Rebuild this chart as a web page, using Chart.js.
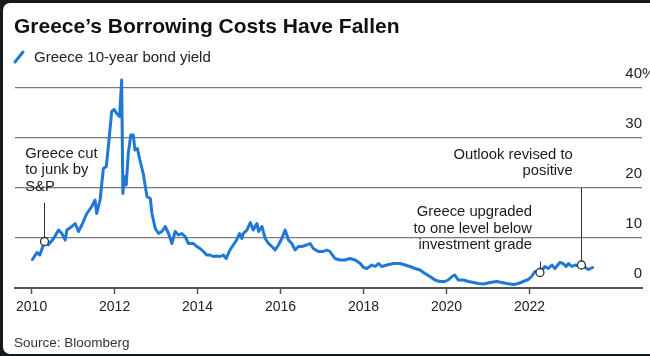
<!DOCTYPE html>
<html>
<head>
<meta charset="utf-8">
<script src="https://cdn.jsdelivr.net/npm/chart.js@4.4.0/dist/chart.umd.min.js"></script>
<style>
  html, body { margin:0; padding:0; width:650px; height:356px; overflow:hidden; background:#15191d; }
  #card { position:absolute; left:3px; top:3px; width:660px; height:351px; background:#fff; border-radius:7px 0 0 7px; }
  #chart { position:absolute; left:0; top:0; }
  .txt { position:absolute; white-space:nowrap; font-family:"Liberation Sans", Arial, Helvetica, sans-serif; }
  #title { left:14px; top:15px; font-size:21px; line-height:21px; font-weight:bold; color:#111; }
  #legend { left:34px; top:49px; font-size:15px; line-height:15px; color:#222; }
  #source { left:14px; top:336px; font-size:13.5px; line-height:13.5px; color:#333; }
  #legicon { position:absolute; left:0; top:0; }
</style>
</head>
<body>
<div id="card"></div>
<canvas id="chart" width="650" height="356"></canvas>
<div id="title" class="txt">Greece’s Borrowing Costs Have Fallen</div>
<svg id="legicon" width="40" height="70"><line x1="15" y1="62" x2="23" y2="52" stroke="#1f77d6" stroke-width="3" stroke-linecap="round"/></svg>
<div id="legend" class="txt">Greece 10-year bond yield</div>
<div id="source" class="txt">Source: Bloomberg</div>
<script>
// ---- data ----
const seriesName = 'Greece 10-year bond yield';
const yieldYears = [
  2010.02, 2010.13, 2010.20, 2010.31, 2010.40, 2010.53, 2010.65, 2010.73, 2010.81, 2010.85,
  2010.97, 2011.05, 2011.13, 2011.21, 2011.33, 2011.45, 2011.53, 2011.57, 2011.65, 2011.73,
  2011.80, 2011.85, 2011.93, 2011.99, 2012.05, 2012.12, 2012.17, 2012.20, 2012.23, 2012.28,
  2012.33, 2012.39, 2012.45, 2012.49, 2012.55, 2012.61, 2012.69, 2012.78, 2012.86, 2012.90,
  2012.98, 2013.06, 2013.14, 2013.22, 2013.30, 2013.38, 2013.46, 2013.54, 2013.62, 2013.70,
  2013.78, 2013.90, 2013.98, 2014.06, 2014.14, 2014.22, 2014.30, 2014.38, 2014.46, 2014.54,
  2014.62, 2014.69, 2014.78, 2014.86, 2014.94, 2015.01, 2015.07, 2015.10, 2015.19, 2015.27,
  2015.34, 2015.43, 2015.47, 2015.55, 2015.63, 2015.71, 2015.79, 2015.87, 2015.95, 2016.03,
  2016.11, 2016.19, 2016.27, 2016.35, 2016.43, 2016.51, 2016.63, 2016.71, 2016.79, 2016.91,
  2017.03, 2017.11, 2017.19, 2017.31, 2017.43, 2017.55, 2017.67, 2017.80, 2017.92, 2018.00,
  2018.08, 2018.20, 2018.28, 2018.36, 2018.44, 2018.56, 2018.72, 2018.88, 2019.00, 2019.12,
  2019.24, 2019.36, 2019.48, 2019.60, 2019.72, 2019.84, 2019.96, 2020.04, 2020.13, 2020.20,
  2020.28, 2020.40, 2020.53, 2020.65, 2020.77, 2020.89, 2021.05, 2021.21, 2021.33, 2021.45,
  2021.61, 2021.73, 2021.85, 2021.97, 2022.05, 2022.13, 2022.25, 2022.37, 2022.45, 2022.54,
  2022.61, 2022.73, 2022.81, 2022.88, 2022.94, 2023.02, 2023.10, 2023.18, 2023.25, 2023.34,
  2023.42, 2023.52
];
const yieldValues = [
  5.7, 7.1, 6.6, 9.3, 8.6, 9.9, 11.6, 10.9, 9.6, 11.6,
  12.3, 12.9, 11.3, 12.6, 14.9, 16.3, 17.6, 14.9, 17.6, 23.9,
  24.3, 28.3, 35.3, 35.7, 34.9, 34.3, 41.6, 18.9, 22.3, 20.6,
  26.9, 30.6, 30.6, 27.6, 27.9, 25.6, 22.9, 18.3, 17.9, 14.9,
  11.9, 10.9, 11.3, 12.3, 10.9, 8.9, 11.3, 10.6, 10.9, 10.3,
  8.9, 8.9, 8.3, 7.9, 7.3, 6.6, 6.6, 6.3, 6.4, 6.3,
  6.6, 5.9, 7.6, 8.6, 9.6, 10.9, 9.9, 10.9, 11.6, 13.1,
  11.6, 12.9, 11.3, 12.3, 9.9, 8.9, 8.3, 7.6, 8.6, 9.9,
  11.6, 9.6, 8.9, 7.6, 8.3, 8.3, 8.6, 8.9, 7.9, 7.3,
  7.3, 7.6, 7.3, 5.9, 5.6, 5.6, 5.9, 5.6, 4.9, 4.1,
  3.9, 4.6, 4.3, 4.9, 4.3, 4.6, 4.9, 4.9, 4.6, 4.3,
  3.9, 3.6, 2.9, 2.3, 1.6, 1.3, 1.3, 1.6, 2.3, 2.6,
  1.6, 1.6, 1.3, 1.1, 0.9, 0.8, 1.1, 1.3, 1.1, 0.9,
  0.7, 0.9, 1.3, 1.7, 2.3, 3.3, 3.1, 4.3, 3.9, 4.6,
  3.9, 5.1, 4.9, 4.3, 4.9, 4.3, 4.6, 4.4, 4.6, 4.1,
  3.7, 4.1
];
const xTickYears = [2010, 2012, 2014, 2016, 2018, 2020, 2022];
const yTickValues = [0, 10, 20, 30, 40];
const yTickLabels = ['0', '10', '20', '30', '40%'];
const eventYears = [2010.31, 2022.25, 2023.25];
const eventValues = [9.3, 3.1, 4.6];
const eventTexts = [
  ['Greece cut', 'to junk by', 'S&P'],
  ['Greece upgraded', 'to one level below', 'investment grade'],
  ['Outlook revised to', 'positive']
];

// ---- styles / layout (not data) ----
const FONT = '"Liberation Sans", Arial, Helvetica, sans-serif';
const LINE_BLUE = '#1f77d6';
const annoLayout = [
  { dx: -19.3, dy: -87.7, align: 'left',  lineTop: -38.7 },
  { dx: -8,    dy: -60.2, align: 'right', lineTop: -11 },
  { dx: -8.7,  dy: -110.3, align: 'right', lineTop: -77 }
];

const yieldPoints = yieldYears.map((x, i) => ({ x: x, y: yieldValues[i] }));
const eventPoints = eventYears.map((x, i) => ({ x: x, y: eventValues[i] }));

const annotationPlugin = {
  id: 'annotations',
  beforeDatasetsDraw(chart) {
    const ctx = chart.ctx, xs = chart.scales.x, ys = chart.scales.y;
    ctx.save();
    ctx.strokeStyle = '#333';
    ctx.lineWidth = 1;
    eventYears.forEach((yr, i) => {
      const px = Math.round(xs.getPixelForValue(yr)) + 0.5;
      const py = ys.getPixelForValue(eventValues[i]);
      ctx.beginPath();
      ctx.moveTo(px, py + annoLayout[i].lineTop);
      ctx.lineTo(px, py);
      ctx.stroke();
    });
    ctx.restore();
  },
  afterDraw(chart) {
    const ctx = chart.ctx, xs = chart.scales.x, ys = chart.scales.y, area = chart.chartArea;
    ctx.save();
    ctx.fillStyle = '#1a1a1a';
    ctx.font = '14.8px ' + FONT;
    ctx.textBaseline = 'middle';
    eventYears.forEach((yr, i) => {
      const px = xs.getPixelForValue(yr);
      const py = ys.getPixelForValue(eventValues[i]);
      const L = annoLayout[i];
      ctx.textAlign = L.align;
      eventTexts[i].forEach((t, j) => {
        ctx.fillText(t, px + L.dx, py + L.dy + j * 16.5);
      });
    });
    // y tick labels, sitting above each gridline, right aligned with a hanging %
    ctx.font = '15px ' + FONT;
    ctx.fillStyle = '#222';
    ys.ticks.forEach((tk) => {
      const y = ys.getPixelForValue(tk.value) - 14.5;
      const label = yTickLabels[yTickValues.indexOf(tk.value)];
      const hasPct = label.endsWith('%');
      const num = hasPct ? label.slice(0, -1) : label;
      ctx.textAlign = 'right';
      ctx.fillText(num, area.right, y);
      if (hasPct) { ctx.textAlign = 'left'; ctx.fillText('%', area.right, y); }
    });
    ctx.restore();
  }
};

new Chart(document.getElementById('chart'), {
  type: 'line',
  data: {
    datasets: [
      {
        label: 'events',
        data: eventPoints,
        showLine: false,
        pointRadius: 4,
        pointBackgroundColor: '#ffffff',
        pointBorderColor: '#333333',
        pointBorderWidth: 1.3,
        order: 0
      },
      {
        label: seriesName,
        data: yieldPoints,
        borderColor: LINE_BLUE,
        borderWidth: 3,
        borderJoinStyle: 'round',
        borderCapStyle: 'round',
        pointRadius: 0,
        tension: 0,
        fill: false,
        order: 1
      }
    ]
  },
  options: {
    responsive: false,
    animation: false,
    devicePixelRatio: 1,
    layout: { padding: { top: 75.5, left: 15, right: 8, bottom: 35.2 } },
    plugins: { legend: { display: false }, tooltip: { enabled: false }, title: { display: false } },
    scales: {
      x: {
        type: 'linear',
        min: 2009.6,
        max: 2024.71,
        afterBuildTicks: (scale) => { scale.ticks = xTickYears.map(v => ({ value: v })); },
        ticks: {
          autoSkip: false, maxRotation: 0, padding: 5,
          color: '#222', font: { family: FONT, size: 14 },
          callback: (v) => String(v)
        },
        grid: { display: true, drawOnChartArea: false, drawTicks: true, tickLength: 6, tickColor: '#555', tickWidth: 1.5 },
        border: { display: true, color: '#555', width: 2 }
      },
      y: {
        type: 'linear',
        position: 'right',
        min: 0,
        max: 42.5,
        afterBuildTicks: (scale) => { scale.ticks = yTickValues.map(v => ({ value: v })); },
        ticks: { display: false },
        grid: { color: '#7a7a7a', lineWidth: 1.3, drawTicks: false },
        border: { display: false }
      }
    }
  },
  plugins: [annotationPlugin]
});
</script>
</body>
</html>
